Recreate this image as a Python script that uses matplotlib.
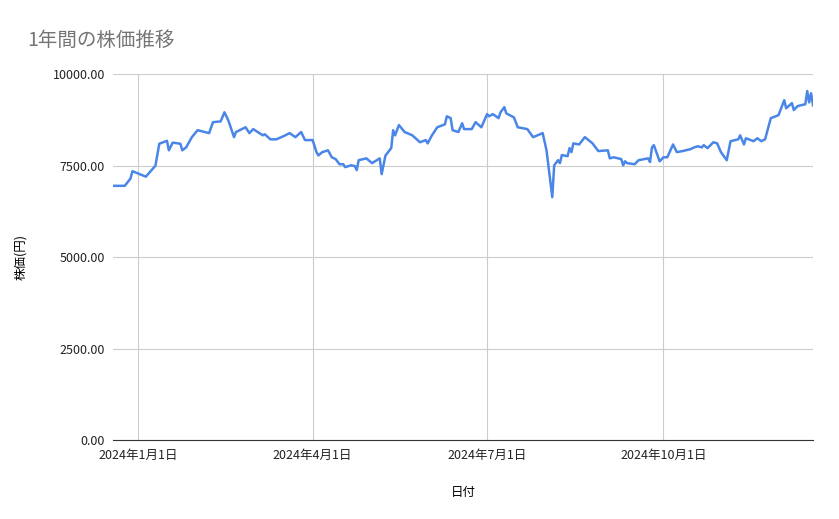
import datetime as dt

import matplotlib
matplotlib.use("Agg")
import matplotlib.pyplot as plt
import matplotlib.dates as mdates
from matplotlib.ticker import FuncFormatter, MultipleLocator

plt.rcParams["font.family"] = ["Noto Sans CJK JP", "DejaVu Sans"]

# days since 2024-01-01
days = [-13, -7, -4, -3, 4, 9, 11, 15, 16, 18, 22, 23, 25, 28, 31, 37, 39, 43, 45, 47,
        50, 51, 56, 58, 60, 65, 66, 69, 72, 76, 79, 82, 85, 87, 91, 93, 94, 96, 99, 101,
        103, 105, 107, 108, 111, 113, 114, 115, 119, 122, 126, 127, 129, 132, 133, 134, 136, 139, 143, 147,
        150, 151, 153, 156, 160, 161, 163, 164, 167, 169, 170, 174, 176, 179, 182, 183, 185, 188, 189, 191,
        192, 196, 198, 203, 206, 211, 213, 216, 217, 219, 220, 221, 224, 225, 226, 227, 230, 233, 237, 240,
        245, 246, 248, 252, 253, 254, 255, 259, 261, 266, 267, 268, 269, 272, 274, 276, 279, 281, 284, 288,
        290, 292, 294, 295, 297, 300, 302, 304, 307, 309, 313, 314, 316, 317, 321, 323, 325, 327, 330, 334,
        337, 338, 341, 342, 344, 348, 349, 350, 351, 352]
prices = [6950, 6950, 7150, 7350, 7200, 7500, 8100, 8180, 7920, 8130, 8100, 7920, 8000, 8280, 8470, 8390, 8690, 8710, 8960, 8740,
          8280, 8420, 8550, 8390, 8500, 8330, 8360, 8220, 8220, 8310, 8390, 8280, 8420, 8200, 8200, 7870, 7780, 7870, 7920, 7730,
          7680, 7540, 7540, 7460, 7510, 7490, 7380, 7650, 7700, 7570, 7700, 7270, 7780, 7980, 8470, 8330, 8610, 8420, 8330, 8140,
          8200, 8110, 8310, 8550, 8630, 8850, 8800, 8470, 8420, 8660, 8500, 8500, 8690, 8550, 8910, 8850, 8910, 8800, 8960, 9100,
          8930, 8820, 8550, 8500, 8280, 8390, 7920, 6640, 7510, 7650, 7570, 7790, 7760, 7980, 7870, 8110, 8080, 8280, 8110, 7900,
          7920, 7700, 7730, 7680, 7510, 7620, 7570, 7540, 7650, 7700, 7600, 8000, 8060, 7620, 7730, 7730, 8080, 7870, 7900, 7950,
          8000, 8030, 8000, 8060, 7980, 8140, 8110, 7870, 7650, 8170, 8220, 8330, 8080, 8250, 8170, 8250, 8170, 8220, 8800, 8880,
          9290, 9070, 9210, 9020, 9130, 9180, 9540, 9230, 9480, 9150]

base = dt.date(2024, 1, 1)
dates = [base + dt.timedelta(days=d) for d in days]
tick_dates = [dt.date(2024, 1, 1), dt.date(2024, 4, 1), dt.date(2024, 7, 1), dt.date(2024, 10, 1)]
tick_labels = ["2024年1月1日", "2024年4月1日", "2024年7月1日", "2024年10月1日"]

fig = plt.figure(figsize=(8.39, 5.19), dpi=100)
ax = fig.add_axes([0.135, 0.152, 0.834, 0.705])
ax.plot(dates, prices, color="#4a86e8", lw=1.8)

ax.set_xlim(dates[0], dates[-1])
ax.set_ylim(0, 10000)
ax.yaxis.set_major_locator(MultipleLocator(2500))
ax.yaxis.set_major_formatter(FuncFormatter(lambda v, p: f"{v:.2f}"))
ax.set_xticks(tick_dates)
ax.set_xticklabels(tick_labels)
ax.grid(True, color="#cccccc", lw=0.8)
ax.tick_params(length=0, labelsize=9, colors="#222222", pad=6)
for s in ["top", "right", "left"]:
    ax.spines[s].set_visible(False)
ax.spines["bottom"].set_color("#333333")

ax.set_xlabel("日付", fontsize=9, labelpad=18)
ax.set_ylabel("株価(円)", fontsize=9, labelpad=18)
fig.text(0.033, 0.923, "1年間の株価推移", fontsize=14, color="#757575", va="center")

fig.savefig("out.png")
